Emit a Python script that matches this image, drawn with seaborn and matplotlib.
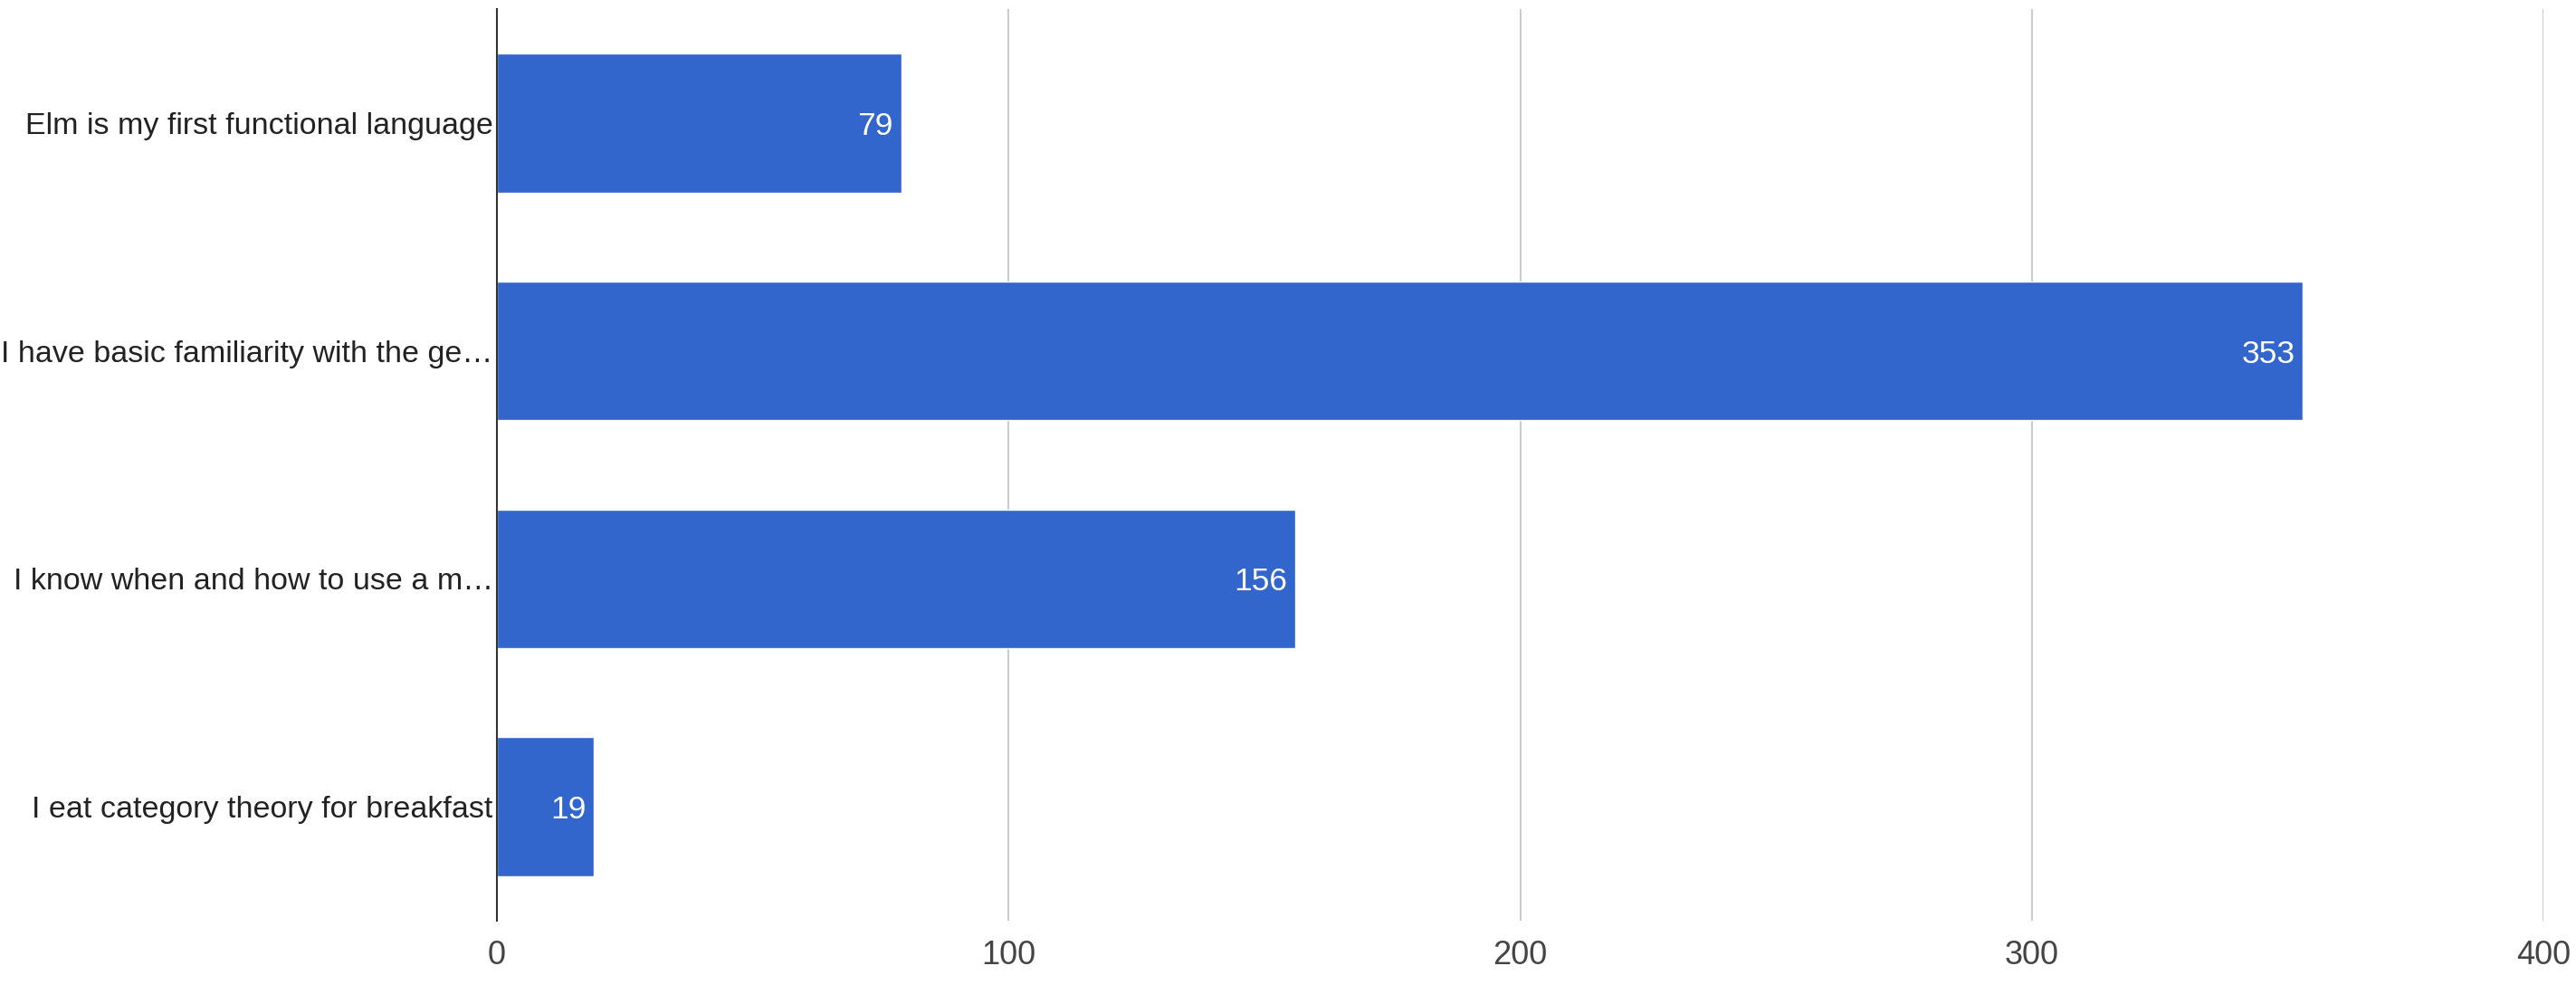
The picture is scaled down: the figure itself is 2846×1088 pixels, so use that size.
import matplotlib
matplotlib.use('Agg')
import matplotlib.pyplot as plt
import pandas as pd
import seaborn as sns

# Dados
respostas = [
    'Elm is my first functional language',
    'I have basic familiarity with the ge\u2026',
    'I know when and how to use a m\u2026',
    'I eat category theory for breakfast',
]
contagens = [79, 353, 156, 19]
ticks_x = [0, 100, 200, 300, 400]

AZUL = '#3366CC'

sns.set_theme(style='white')
plt.rcParams['font.family'] = ['Liberation Sans', 'DejaVu Sans']

df = pd.DataFrame({'resposta': respostas, 'contagem': contagens})

fig = plt.figure(figsize=(28.46, 10.88), dpi=100)
ax = fig.add_axes([0.1929, 0.0653, 0.9874 - 0.1929, 0.9908 - 0.0653])

sns.barplot(data=df, y='resposta', x='contagem', orient='h', color=AZUL,
            saturation=1, width=0.61, ax=ax)

ax.set_xlim(0, 400)
ax.set_xticks(ticks_x)
ax.set_ylim(len(respostas) - 0.5, -0.5)
ax.set_xlabel('')
ax.set_ylabel('')

for x in ticks_x[1:]:
    ax.axvline(x, color='#CCCCCC', lw=1.5, zorder=0)

for s in ['top', 'right', 'bottom']:
    ax.spines[s].set_visible(False)
ax.spines['left'].set_color('#333333')
ax.spines['left'].set_linewidth(1.5)

ax.tick_params(axis='x', length=0, pad=15, labelsize=26, labelcolor='#444444')
ax.tick_params(axis='y', length=0, pad=3, labelsize=24.5, labelcolor='#222222')

for i, v in enumerate(contagens):
    ax.annotate(str(v), (v, i), xytext=(-6.5, 0), textcoords='offset points',
                ha='right', va='center_baseline', color='white', fontsize=25.5)

fig.savefig('out.png', dpi=100, facecolor='white')
